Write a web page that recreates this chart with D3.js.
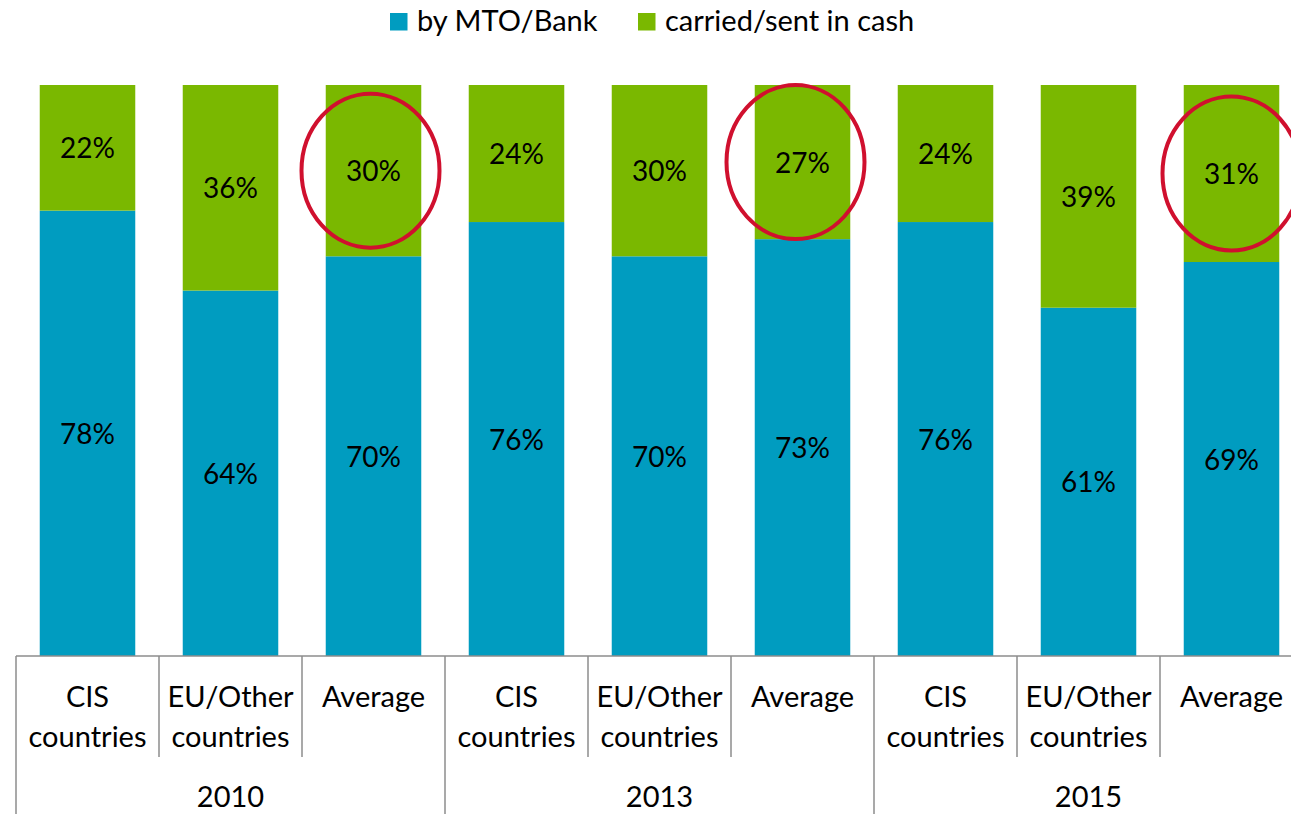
<!DOCTYPE html>
<html>
<head>
<meta charset="utf-8">
<script src="https://cdn.jsdelivr.net/npm/d3@7"></script>
<style>
  html, body { margin: 0; padding: 0; background: #fff; }
  svg { display: block; font-family: Lato, "Noto Sans", sans-serif; }
</style>
</head>
<body>
<svg id="chart" width="1291" height="814"></svg>
<script>
const years = ["2010", "2013", "2015"];
const regionLines = [["CIS", "countries"], ["EU/Other", "countries"], ["Average"]];
const seriesNames = ["by MTO/Bank", "carried/sent in cash"];
const mtoBank = [78, 64, 70, 76, 70, 73, 76, 61, 69];
const cash = [22, 36, 30, 24, 30, 27, 24, 39, 31];
const highlighted = [2, 5, 8];
const highlightShift = [-3, -7, 0];

const colors = ["#009CC0", "#7AB800"];
const axisColor = "#8c8c8c";

const svg = d3.select("#chart");
const W = 1291, H = 814;

const cats = d3.range(years.length * regionLines.length);
const left = 16, step = 143;
const x = d3.scaleBand()
  .domain(cats)
  .range([left, left + step * cats.length])
  .paddingInner(0.332)
  .paddingOuter(0.166);
const y = d3.scaleLinear().domain([0, 100]).range([656, 85]);

const stackData = cats.map(i => ({ i, mto: mtoBank[i], cash: cash[i] }));
const stack = d3.stack().keys(["mto", "cash"])(stackData);

const fsBar = 28, fsCat = 29, fsLeg = 29;

// bars
stack.forEach((layer, k) => {
  svg.append("g").selectAll("rect").data(layer).join("rect")
    .attr("x", d => x(d.data.i))
    .attr("width", x.bandwidth())
    .attr("y", d => y(d[1]))
    .attr("height", d => y(d[0]) - y(d[1]))
    .attr("fill", colors[k]);
  svg.append("g").selectAll("text").data(layer).join("text")
    .attr("x", d => x(d.data.i) + x.bandwidth() / 2)
    .attr("y", d => (y(d[0]) + y(d[1])) / 2 + 10.5)
    .attr("text-anchor", "middle")
    .attr("font-size", fsBar)
    .attr("fill", "#000")
    .text(d => (d[1] - d[0]) + "%");
});

// highlight ellipses
svg.append("g").selectAll("ellipse").data(highlighted).join("ellipse")
  .attr("cx", (i, j) => x(i) + x.bandwidth() / 2 + highlightShift[j])
  .attr("cy", i => (y(100) + y(100 - cash[i])) / 2)
  .attr("rx", 69)
  .attr("ry", 77)
  .attr("fill", "none")
  .attr("stroke", "#D0102E")
  .attr("stroke-width", 4);

// axis
const ax = svg.append("g").attr("stroke", axisColor).attr("stroke-width", 1.5);
ax.append("line").attr("x1", left).attr("x2", W).attr("y1", y(0)).attr("y2", y(0));
const boundary = i => x(i) - x.step() * x.paddingInner() / 2;
cats.forEach(i => {
  const isGroup = i % regionLines.length === 0;
  ax.append("line")
    .attr("x1", boundary(i)).attr("x2", boundary(i))
    .attr("y1", y(0)).attr("y2", isGroup ? H : 757);
});
ax.append("line")
  .attr("x1", left + step * cats.length).attr("x2", left + step * cats.length)
  .attr("y1", y(0)).attr("y2", H);

// category labels
const catG = svg.append("g").attr("font-size", fsCat).attr("fill", "#000").attr("text-anchor", "middle");
cats.forEach(i => {
  const lines = regionLines[i % regionLines.length];
  const t = catG.append("text").attr("x", x(i) + x.bandwidth() / 2);
  lines.forEach((ln, j) => {
    t.append("tspan").attr("x", x(i) + x.bandwidth() / 2).attr("y", 707 + j * 40).text(ln);
  });
});
years.forEach((yr, g) => {
  const cx = left + step * regionLines.length * (g + 0.5);
  catG.append("text").attr("x", cx).attr("y", 807).text(yr);
});

// legend
const legend = svg.append("g").attr("font-size", fsLeg);
const legendX = [390, 638];
seriesNames.forEach((name, k) => {
  legend.append("rect").attr("x", legendX[k]).attr("y", 13).attr("width", 17.5).attr("height", 17.5).attr("fill", colors[k]);
  legend.append("text").attr("x", legendX[k] + 27).attr("y", 30.5).attr("fill", "#000").text(name);
});
</script>
</body>
</html>
